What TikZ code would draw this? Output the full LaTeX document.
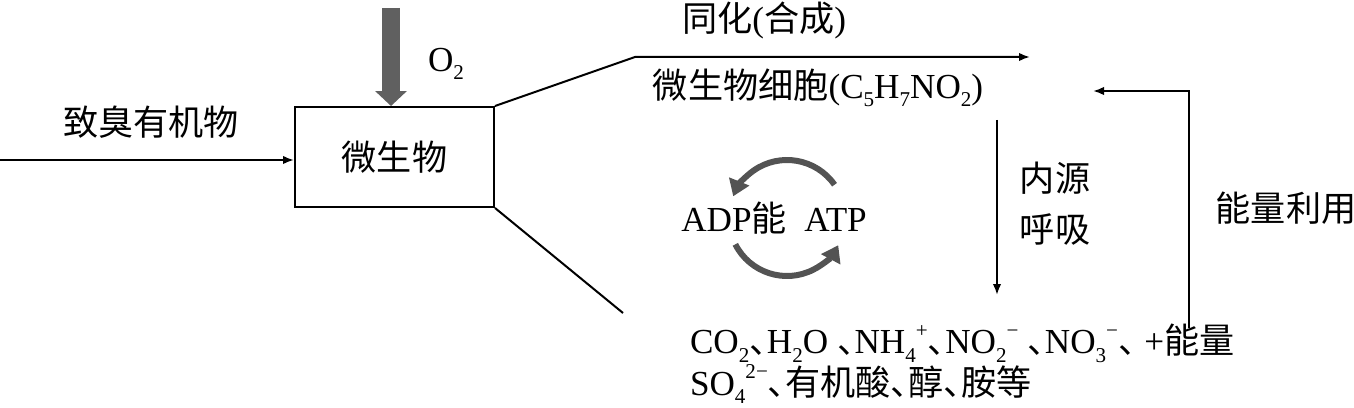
\documentclass[tikz,border=0pt]{standalone}
\usepackage{fontspec}
\setmainfont{Liberation Serif}
\newfontfamily\cjk{Noto Sans CJK SC}
\newfontfamily\cjkh[RawFeature=+halt]{Noto Sans CJK SC}
\newcommand{\zh}[1]{{\cjk #1}}
\newcommand{\dun}{{\cjkh 、}}
\newcommand{\lo}[1]{\raisebox{-0.24em}{\fontsize{12}{12}\selectfont #1}}
\newcommand{\hi}[1]{\raisebox{0.48em}{\fontsize{12}{12}\selectfont #1}}
\usetikzlibrary{arrows.meta}

\tikzset{
  txt/.style={font=\fontsize{20}{24}\selectfont, inner sep=0pt},
  o2arrow/.style={line width=0.36cm, draw=gray!75!black, -{Triangle[length=0.3cm,width=0.62cm]}},
  cycarrow/.style={line width=0.12cm, draw=gray!65!black, -{Triangle[length=0.32cm,width=0.42cm]}},
}

\begin{document}
\begin{tikzpicture}[x=0.02cm, y=-0.02cm, >={Latex[length=0.22cm,width=0.17cm]}, line width=0.04cm]
        \useasboundingbox (0, 0) rectangle (1354, 408);

        % 微生物与进料
        \node[draw, txt, minimum width=3.98cm, minimum height=2cm] (mbox) at (394.5, 157){\zh{微生物}};
        \node[txt] (odor) at (151, 122){\zh{致臭有机物}};
        \node[txt] (o2) at (446, 64){O\lo{2}};
        \coordinate (in) at (0, 160);
        \coordinate (o2top) at (391, 8);
        \draw[->] (in) -- (in -| mbox.west);
        \draw[o2arrow] (o2top) -- (o2top |- mbox.north);

        % 同化与细胞
        \node[txt] (assim) at (764, 20){\zh{同化}(\zh{合成})};
        \node[txt] (cell) at (818, 88){\zh{微生物细胞}(C\lo{5}H\lo{7}NO\lo{2})};
        \coordinate (up) at (635, 57);
        \coordinate (upend) at (1030, 57);
        \coordinate (low) at (623, 313);
        \draw[->] (mbox.north east) -- (up) -- (upend);
        \draw (mbox.south east) -- (low);

        % 内源呼吸
        \node[txt, font=\fontsize{20}{29}\selectfont, align=center] (resp) at (1055, 204){\zh{内源}\\\zh{呼吸}};
        \coordinate (r1) at (997, 120);
        \coordinate (r2) at (997, 295);
        \draw[->] (r1) -- (r2);

        % 产物
        \node[txt, font=\fontsize{20}{20}\selectfont, align=left, anchor=west] (prod) at (689, 364){CO\lo{2}\dun H\lo{2}O \dun NH\lo{4}\hi{+}\dun NO\lo{2}\hi{−} \dun NO\lo{3}\hi{−}\dun\ +\zh{能量}\\SO\lo{4}\hi{2−}\dun\zh{有机酸}\dun\zh{醇}\dun\zh{胺等}};

        % 能量利用
        \node[txt] (use) at (1286, 208){\zh{能量利用}};
        \coordinate (fb) at (1189, 328);
        \coordinate (fbend) at (1093, 91);
        \draw[->] (fb) |- (fbend);

        % ADP 与 ATP 循环
        \node[txt] (cyc) at (774, 218){ADP\zh{能}\ \ ATP};
        \coordinate (cc) at (787, 218);
        \begin{scope}[shift={(cc)}, y=0.02cm]
            \draw[cycarrow] (35:58) arc[start angle=35, end angle=158, radius=58];
            \draw[cycarrow] (207:58) arc[start angle=207, end angle=332, radius=58];
        \end{scope}
    \end{tikzpicture}
\end{document}
